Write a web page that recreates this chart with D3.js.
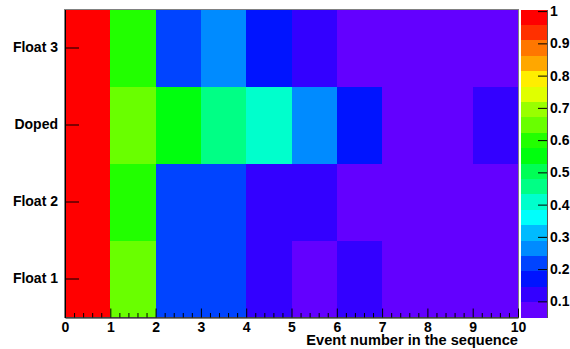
<!DOCTYPE html>
<html>
<head>
<meta charset="utf-8">
<script src="https://cdn.jsdelivr.net/npm/d3@7"></script>
<style>
  html, body { margin: 0; padding: 0; background: #fff; }
  svg text { font-family: "Liberation Sans", Arial, Helvetica, sans-serif; font-weight: bold; font-size: 14px; fill: #000; }
</style>
</head>
<body>
<svg id="chart" width="570" height="349"></svg>
<script>
// ---- data ----
const categories = ["Float 1", "Float 2", "Doped", "Float 3"];   // bottom to top
const eventBins = [0, 1, 2, 3, 4, 5, 6, 7, 8, 9];
const float1 = [1.0, 0.65, 0.22, 0.22, 0.12, 0.07, 0.12, 0.07, 0.07, 0.07];
const float2 = [1.0, 0.60, 0.22, 0.22, 0.12, 0.12, 0.07, 0.07, 0.07, 0.07];
const doped  = [1.0, 0.65, 0.55, 0.46, 0.41, 0.27, 0.17, 0.07, 0.07, 0.12];
const float3 = [1.0, 0.60, 0.22, 0.27, 0.17, 0.12, 0.07, 0.07, 0.07, 0.07];
const xTicks = [0, 1, 2, 3, 4, 5, 6, 7, 8, 9, 10];
const zTicks = [0.1, 0.2, 0.3, 0.4, 0.5, 0.6, 0.7, 0.8, 0.9, 1];
const zRange = [0.05, 1.005];
const nLevels = 20;
const xTitle = "Event number in the sequence";

const rows = [float1, float2, doped, float3];

// ---- layout ----
const L = 65, R = 518, T = 9.5, B = 317.5;
const barL = 521, barR = 547;

const svg = d3.select("#chart");

const x = d3.scaleLinear().domain([0, 10]).range([L, R]);
const y = d3.scaleBand().domain(categories).range([B, T]).paddingInner(0).paddingOuter(0);
const z = d3.scaleLinear().domain(zRange).range([B, T]);

// ROOT "pretty" palette (SetPalette(1)), 50 colours, picked with 20 contours
function paletteColor(level) {
  const k = Math.floor((level + 0.99) * 50 / nLevels);
  if (k >= 49) return "rgb(255,0,0)";
  const hue = 280 - (k + 1) * 5.6;
  return d3.hsl(hue, 1, 0.5).formatRgb();
}
function levelOf(v) {
  let j = Math.floor((v - zRange[0]) / (zRange[1] - zRange[0]) * nLevels);
  return Math.max(0, Math.min(nLevels - 1, j));
}

// ---- cells ----
const cells = [];
rows.forEach((vals, ri) => {
  vals.forEach((v, ci) => cells.push({ cat: categories[ri], bin: eventBins[ci], v }));
});

svg.append("g").attr("shape-rendering", "crispEdges")
  .selectAll("rect").data(cells).join("rect")
  .attr("x", d => x(d.bin))
  .attr("width", d => x(d.bin + 1) - x(d.bin))
  .attr("y", d => y(d.cat))
  .attr("height", y.bandwidth())
  .attr("fill", d => paletteColor(levelOf(d.v)));

// frame
svg.append("rect").attr("x", L - 0.5).attr("y", T).attr("width", R - L + 1).attr("height", B - T)
  .attr("fill", "none").attr("stroke", "#808080").attr("stroke-width", 1);

// ---- x axis ----
const minorTicks = d3.range(0, 10.001, 0.2).filter(t => Math.abs(t - Math.round(t)) > 1e-6);
svg.append("g").attr("transform", `translate(0,${B})`)
  .call(d3.axisBottom(x).tickValues(minorTicks).tickSize(-4.5).tickFormat(""))
  .call(g => g.select(".domain").remove())
  .call(g => g.selectAll("line").attr("stroke", "#000"));
svg.append("g").attr("transform", `translate(0,${B})`)
  .call(d3.axisBottom(x).tickValues(xTicks).tickSize(-9).tickPadding(5).tickSizeOuter(0).tickFormat(d3.format("d")))
  .call(g => g.select(".domain").attr("stroke", "#000"))
  .call(g => g.selectAll("text").attr("font-size", null).attr("font-family", null));

svg.append("text").attr("x", R).attr("y", 345).attr("text-anchor", "end")
  .style("font-size", "14.6px").text(xTitle);

// ---- y axis ----
svg.append("g").attr("transform", `translate(${L},0)`)
  .call(d3.axisLeft(y).tickSize(-14).tickPadding(7).tickSizeOuter(0))
  .call(g => g.select(".domain").attr("stroke", "#000"))
  .call(g => g.selectAll("text").attr("font-size", null).attr("font-family", null));

// ---- colour bar ----
const step = (zRange[1] - zRange[0]) / nLevels;
const levels = d3.range(nLevels);
svg.append("g").attr("shape-rendering", "crispEdges")
  .selectAll("rect").data(levels).join("rect")
  .attr("x", barL)
  .attr("width", barR - barL)
  .attr("y", j => z(zRange[0] + (j + 1) * step))
  .attr("height", j => z(zRange[0] + j * step) - z(zRange[0] + (j + 1) * step))
  .attr("fill", j => paletteColor(j));

svg.append("g").attr("transform", `translate(${barR},0)`)
  .call(d3.axisRight(z).tickValues(zTicks).tickSize(-9).tickPadding(3).tickSizeOuter(0).tickFormat(d3.format("~g")))
  .call(g => g.select(".domain").attr("stroke", "#555"))
  .call(g => g.selectAll("text").attr("font-size", null).attr("font-family", null));
</script>
</body>
</html>
